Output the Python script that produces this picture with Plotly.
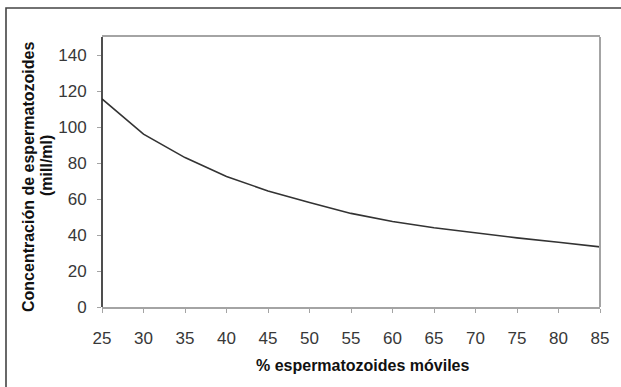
import plotly.graph_objects as go

# Data
motile_pct = [25, 30, 35, 40, 45, 50, 55, 60, 65, 70, 75, 80, 85]
concentration = [115.6, 96.0, 83.0, 72.5, 64.5, 58.0, 52.0, 47.5, 44.0, 41.0, 38.4, 36.0, 33.4]
x_ticks = [25, 30, 35, 40, 45, 50, 55, 60, 65, 70, 75, 80, 85]
y_ticks = [0, 20, 40, 60, 80, 100, 120, 140]

W, H = 621, 387
L, R, T, B = 102, 21, 37, 80
PW, PH = W - L - R, H - T - B

def px_x(px):
    return (px - L) / PW

def px_y(py):
    return (H - B - py) / PH

FONT = "Liberation Sans, Arial, sans-serif"

fig = go.Figure()
fig.add_trace(go.Scatter(
    x=motile_pct, y=concentration, mode="lines",
    line=dict(color="#333333", width=1.6),
    showlegend=False, hoverinfo="skip",
))

grey = "#a4a4a4"
fig.update_layout(
    width=W, height=H,
    margin=dict(l=L, r=R, t=T, b=B),
    paper_bgcolor="white", plot_bgcolor="white",
    font=dict(family=FONT, color="#333333"),
    xaxis=dict(
        range=[25, 85], tickvals=x_ticks, ticktext=[str(v) for v in x_ticks],
        showgrid=False, zeroline=False,
        showline=True, linecolor=grey, linewidth=2, mirror=True,
        ticks="outside", ticklen=4, tickcolor=grey, tickwidth=1,
        tickfont=dict(size=17, color="#383838", family=FONT),
        ticklabelstandoff=11,
    ),
    yaxis=dict(
        range=[0, 150], tickvals=y_ticks, ticktext=[str(v) for v in y_ticks],
        showgrid=False, zeroline=False,
        showline=False,
        ticks="outside", ticklen=4, tickcolor=grey, tickwidth=1,
        tickfont=dict(size=17, color="#383838", family=FONT),
        ticklabelstandoff=7,
    ),
    shapes=[
        # right border (grey)
        dict(type="line", xref="paper", yref="paper", x0=1, x1=1, y0=0, y1=1,
             line=dict(color=grey, width=2)),
        # left axis (dark)
        dict(type="line", xref="paper", yref="paper", x0=0, x1=0, y0=0, y1=1,
             line=dict(color="#222222", width=1.6)),
        # outer chart border
        dict(type="rect", xref="paper", yref="paper",
             x0=px_x(6), x1=px_x(W + 20), y0=px_y(H + 20), y1=px_y(8),
             line=dict(color="#444444", width=1.6), fillcolor="rgba(0,0,0,0)"),
    ],
    annotations=[
        dict(text="<b>% espermatozoides móviles</b>", xref="paper", yref="paper",
             x=px_x(363), y=px_y(365), xanchor="center", yanchor="middle",
             showarrow=False, font=dict(size=16, color="#111111", family=FONT)),
        dict(text="<b>Concentración de espermatozoides</b>", xref="paper", yref="paper",
             x=px_x(28), y=px_y(177), xanchor="center", yanchor="middle", textangle=-90,
             showarrow=False, font=dict(size=16, color="#111111", family=FONT)),
        dict(text="<b>(mill/ml)</b>", xref="paper", yref="paper",
             x=px_x(46), y=px_y(166), xanchor="center", yanchor="middle", textangle=-90,
             showarrow=False, font=dict(size=16, color="#111111", family=FONT)),
    ],
)

fig.write_html(
    "out.html",
    config={"displayModeBar": False},
    post_script="document.body.style.margin='0';document.body.style.padding='0';",
)
